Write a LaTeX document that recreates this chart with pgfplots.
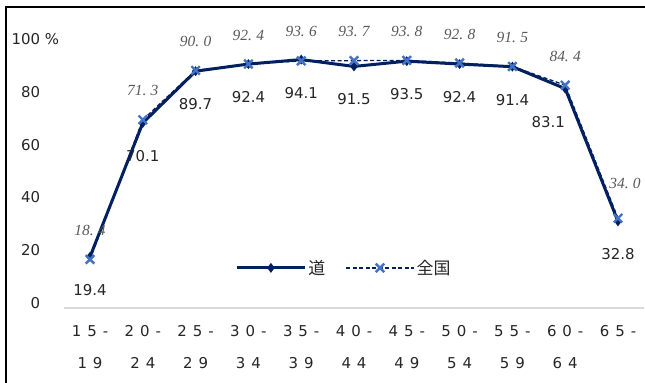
\documentclass[border=0pt]{standalone}
\usepackage{pgfplots}
\pgfplotsset{compat=1.18}
\usepackage{pgfplotstable}
\usepackage{fontspec}
\setmainfont{DejaVu Sans}
\newfontfamily\cjk{Noto Sans CJK JP}
\newfontfamily\ital{Liberation Serif}
\newfontfamily\spaced[LetterSpace=40]{DejaVu Sans}
\definecolor{navy}{RGB}{0,32,96}
\definecolor{xblue}{RGB}{68,114,196}
\definecolor{lblgray}{RGB}{89,89,89}
\definecolor{axgray}{RGB}{217,217,217}

\pgfplotstableread{
x do zenkoku
0 19.4 18.4
1 70.1 71.3
2 89.7 90.0
3 92.4 92.4
4 94.1 93.6
5 91.5 93.7
6 93.5 93.8
7 92.4 92.8
8 91.4 91.5
9 83.1 84.4
10 32.8 34.0
}\data

\begin{document}
\begin{tikzpicture}
\useasboundingbox (0,0) rectangle (645bp,383bp);
\fill[white] (0,0) rectangle (645bp,383bp);
\draw[black, line width=1.6bp] (6bp,-5bp) -- (6bp,376bp) -- (650bp,376bp);
\begin{axis}[
  at={(63.6bp,75bp)}, anchor=south west,
  scale only axis, width=580.8bp, height=264bp,
  xmin=-0.5, xmax=10.5, ymin=0, ymax=100,
  clip=false,
  axis x line*=bottom, axis y line*=left,
  x axis line style={draw=axgray, line width=2bp, -},
  y axis line style={draw=none},
  major tick length=0pt,
  xtick={0,...,10},
  xticklabels={{15-\\19},{20-\\24},{25-\\29},{30-\\34},{35-\\39},{40-\\44},{45-\\49},{50-\\54},{55-\\59},{60-\\64},{65-\\\strut}},
  xticklabel style={align=center, font=\spaced\fontsize{15}{32}\selectfont, text=black!85, yshift=-14bp},
  ytick={0,20,...,100},
  yticklabel style={anchor=east, xshift=-20bp, yshift=5bp, font=\fontsize{15}{18}\selectfont, text=black!85},
  /pgf/number format/assume math mode=true,
  legend style={draw=none, fill=none, at={(axis cs:4.81,15.2)}, anchor=center,
    font=\cjk\fontsize{17}{20}\selectfont, text=black!85,
    /tikz/every even column/.append style={column sep=18bp}},
  legend columns=2,
  legend cell align=left,
  legend image code/.code={\draw[#1, mark repeat=2, mark phase=2] plot coordinates {(0bp,0bp) (34bp,0bp) (68bp,0bp)};},
]
\addplot[navy, line width=3bp, mark=diamond*, mark size=2.5bp, mark options={fill=navy, solid},
  nodes near coords={\pgfmathprintnumber[fixed,fixed zerofill,precision=1,assume math mode=true]{\pgfplotspointmeta}},
  point meta=y,
  every node near coord/.append style={anchor=center, yshift=-33bp, font=\fontsize{15}{18}\selectfont, text=black!85},
  coordinate style/.condition={abs(x-9)<0.1}{xshift=-17bp},
] table[x=x, y=do]{\data};
\addlegendentry{道}
\addplot[navy, line width=1.3bp, dash pattern=on 4bp off 2.5bp, mark=x, mark size=6bp, mark options={solid, draw=xblue, line width=2.4bp},
  nodes near coords={\pgfmathprintnumber[fixed,fixed zerofill,precision=1,assume math mode=true,set decimal separator={.\hspace{0.28em}}]{\pgfplotspointmeta}},
  point meta=y,
  every node near coord/.append style={anchor=center, yshift=29bp, font=\ital\itshape\fontsize{15.5}{18}\selectfont, text=lblgray},
  coordinate style/.condition={abs(x-10)<0.1}{xshift=7bp, yshift=6bp},
] table[x=x, y=zenkoku]{\data};
\addlegendentry{全国}
\end{axis}
\node[font=\fontsize{15}{18}\selectfont, text=black!85] at (52bp,344bp) {\%};
\end{tikzpicture}
\end{document}
